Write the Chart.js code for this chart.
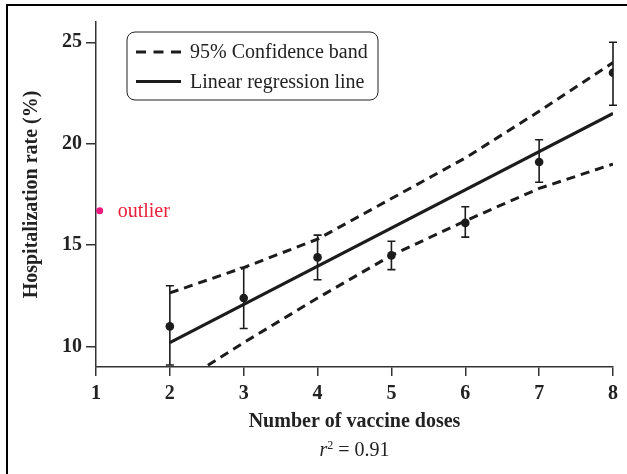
<!DOCTYPE html>
<html>
<head>
<meta charset="utf-8">
<script src="https://cdn.jsdelivr.net/npm/chart.js"></script>
<style>
  html, body { margin: 0; padding: 0; background: #fff; }
  #wrap { width: 627px; height: 474px; position: relative; }
</style>
</head>
<body>
<div id="wrap"><canvas id="doseChart"></canvas></div>
<script>
// Measured hospitalization rates with error bars
const doses = [2, 3, 4, 5, 6, 7, 8];
const hospRate = [11.0, 12.4, 14.4, 14.5, 16.1, 19.1, 23.5];
const errLow = [9.1, 10.9, 13.3, 13.8, 15.4, 18.1, 21.9];
const errHigh = [13.0, 13.9, 15.5, 15.2, 16.9, 20.2, 25.0];

// Regression line and 95% confidence band
const fitX = [2, 8];
const fitY = [10.2, 21.5];
const bandUpper = [12.65, 13.9, 15.3, 17.3, 19.3, 21.6, 24.0];
const bandLower = [7.9, 10.2, 12.4, 14.5, 16.2, 17.8, 19.0];

// Outlier
const outlierX = [1.05];
const outlierY = [16.7];

// Axis ticks
const xTicks = [1, 2, 3, 4, 5, 6, 7, 8];
const yTicks = [10, 15, 20, 25];
const rSquared = '0.91';

const serif = "'Liberation Serif', 'Times New Roman', serif";
const ink = '#1c1c1c';
const dash = [9, 6];

const toPts = (xs, ys) => xs.map((x, i) => ({ x: x, y: ys[i] }));

// Error bars under the points
const errorBars = {
    id: 'errorBars',
    beforeDatasetsDraw(chart) {
        const { ctx, scales: { x, y } } = chart;
        ctx.save();
        ctx.strokeStyle = ink;
        ctx.lineWidth = 1.6;
        doses.forEach((d, i) => {
            const px = x.getPixelForValue(d);
            const lo = y.getPixelForValue(errLow[i]);
            const hi = y.getPixelForValue(errHigh[i]);
            ctx.beginPath();
            ctx.moveTo(px, lo); ctx.lineTo(px, hi);
            ctx.moveTo(px - 4, lo); ctx.lineTo(px + 4, lo);
            ctx.moveTo(px - 4, hi); ctx.lineTo(px + 4, hi);
            ctx.stroke();
        });
        ctx.restore();
    }
};

// Legend box, outlier note, r² and the outer frame
const extras = {
    id: 'extras',
    afterDraw(chart) {
        const { ctx, chartArea, scales: { x, y } } = chart;
        ctx.save();

        // frame
        ctx.strokeStyle = '#000';
        ctx.lineWidth = 2;
        ctx.beginPath();
        ctx.moveTo(7, chart.height);
        ctx.lineTo(7, 5);
        ctx.lineTo(chart.width, 5);
        ctx.stroke();

        // legend
        const lx = chartArea.left + 31, ly = chartArea.top + 10;
        ctx.lineWidth = 1;
        ctx.strokeStyle = '#222';
        ctx.beginPath();
        ctx.roundRect(lx, ly, 251, 68, 8);
        ctx.stroke();
        const rows = [
            { text: chart.data.datasets[0].label, dash: [10, 7.5] },
            { text: chart.data.datasets[2].label, dash: [] }
        ];
        ctx.font = '20px ' + serif;
        ctx.fillStyle = '#222';
        ctx.textBaseline = 'middle';
        ctx.textAlign = 'left';
        rows.forEach((r, i) => {
            const cy = ly + 20 + i * 29.5;
            ctx.lineWidth = 3;
            ctx.strokeStyle = ink;
            ctx.setLineDash(r.dash);
            ctx.beginPath();
            ctx.moveTo(lx + 9, cy); ctx.lineTo(lx + 54, cy);
            ctx.stroke();
            ctx.setLineDash([]);
            ctx.fillText(r.text, lx + 63, cy + 1);
        });

        // outlier note
        ctx.fillStyle = '#e8203c';
        ctx.fillText('outlier', x.getPixelForValue(outlierX[0]) + 18, y.getPixelForValue(outlierY[0]) + 1);

        // r² line
        ctx.fillStyle = '#222';
        ctx.textBaseline = 'alphabetic';
        const rest = ' = ' + rSquared;
        ctx.font = 'italic 20px ' + serif;
        const wr = ctx.measureText('r').width;
        ctx.font = '12px ' + serif;
        const w2 = ctx.measureText('2').width;
        ctx.font = '20px ' + serif;
        const wRest = ctx.measureText(rest).width;
        const cx = (chartArea.left + chartArea.right) / 2;
        let sx = cx - (wr + w2 + wRest) / 2;
        const base = chart.height - 18;
        ctx.font = 'italic 20px ' + serif;
        ctx.fillText('r', sx, base);
        sx += wr;
        ctx.font = '12px ' + serif;
        ctx.fillText('2', sx, base - 7);
        sx += w2;
        ctx.font = '20px ' + serif;
        ctx.fillText(rest, sx, base);

        ctx.restore();
    }
};

new Chart(document.getElementById('doseChart'), {
    type: 'scatter',
    data: {
        datasets: [
            {
                label: '95% Confidence band',
                data: toPts(doses, bandUpper),
                showLine: true,
                borderColor: ink,
                borderWidth: 3,
                borderDash: dash,
                pointRadius: 0,
                clip: 0
            },
            {
                label: '95% Confidence band (lower)',
                data: toPts(doses, bandLower),
                showLine: true,
                borderColor: ink,
                borderWidth: 3,
                borderDash: dash,
                pointRadius: 0,
                clip: 0
            },
            {
                label: 'Linear regression line',
                data: toPts(fitX, fitY),
                showLine: true,
                borderColor: ink,
                borderWidth: 3.2,
                pointRadius: 0
            },
            {
                label: 'Observed',
                data: toPts(doses, hospRate),
                pointRadius: 4.3,
                pointBackgroundColor: ink,
                pointBorderColor: ink,
                pointBorderWidth: 0
            },
            {
                label: 'Outlier',
                data: toPts(outlierX, outlierY),
                pointRadius: 3.5,
                pointBackgroundColor: '#ea1a7f',
                pointBorderColor: '#ea1a7f',
                pointBorderWidth: 0
            }
        ]
    },
    options: {
        responsive: true,
        maintainAspectRatio: false,
        animation: false,
        layout: { padding: { top: 22, right: 14, left: 0, bottom: 0 } },
        plugins: {
            legend: { display: false },
            tooltip: { enabled: false }
        },
        scales: {
            x: {
                type: 'linear',
                min: 1,
                max: 8,
                afterBuildTicks: s => { s.ticks = xTicks.map(v => ({ value: v })); },
                afterFit: s => { s.height = 107; },
                ticks: {
                    font: { family: serif, size: 20, weight: 'bold' },
                    color: '#222',
                    padding: 6
                },
                grid: { drawOnChartArea: false, drawTicks: true, tickLength: 9, color: '#333', lineWidth: 1.5 },
                border: { display: true, color: '#333', width: 1.5 },
                title: {
                    display: true,
                    text: 'Number of vaccine doses',
                    font: { family: serif, size: 20, weight: 'bold' },
                    color: '#222',
                    padding: { top: 4, bottom: 40 }
                }
            },
            y: {
                type: 'linear',
                min: 9,
                max: 26,
                afterBuildTicks: s => { s.ticks = yTicks.map(v => ({ value: v })); },
                afterFit: s => { s.width = 96; },
                ticks: {
                    font: { family: serif, size: 20, weight: 'bold' },
                    color: '#222',
                    padding: 4
                },
                grid: { drawOnChartArea: false, drawTicks: true, tickLength: 10, color: '#333', lineWidth: 1.5 },
                border: { display: true, color: '#333', width: 1.5 },
                title: {
                    display: true,
                    text: 'Hospitalization rate (%)',
                    font: { family: serif, size: 20, weight: 'bold' },
                    color: '#222',
                    padding: { top: 20, bottom: 0 }
                }
            }
        }
    },
    plugins: [errorBars, extras]
});
</script>
</body>
</html>
